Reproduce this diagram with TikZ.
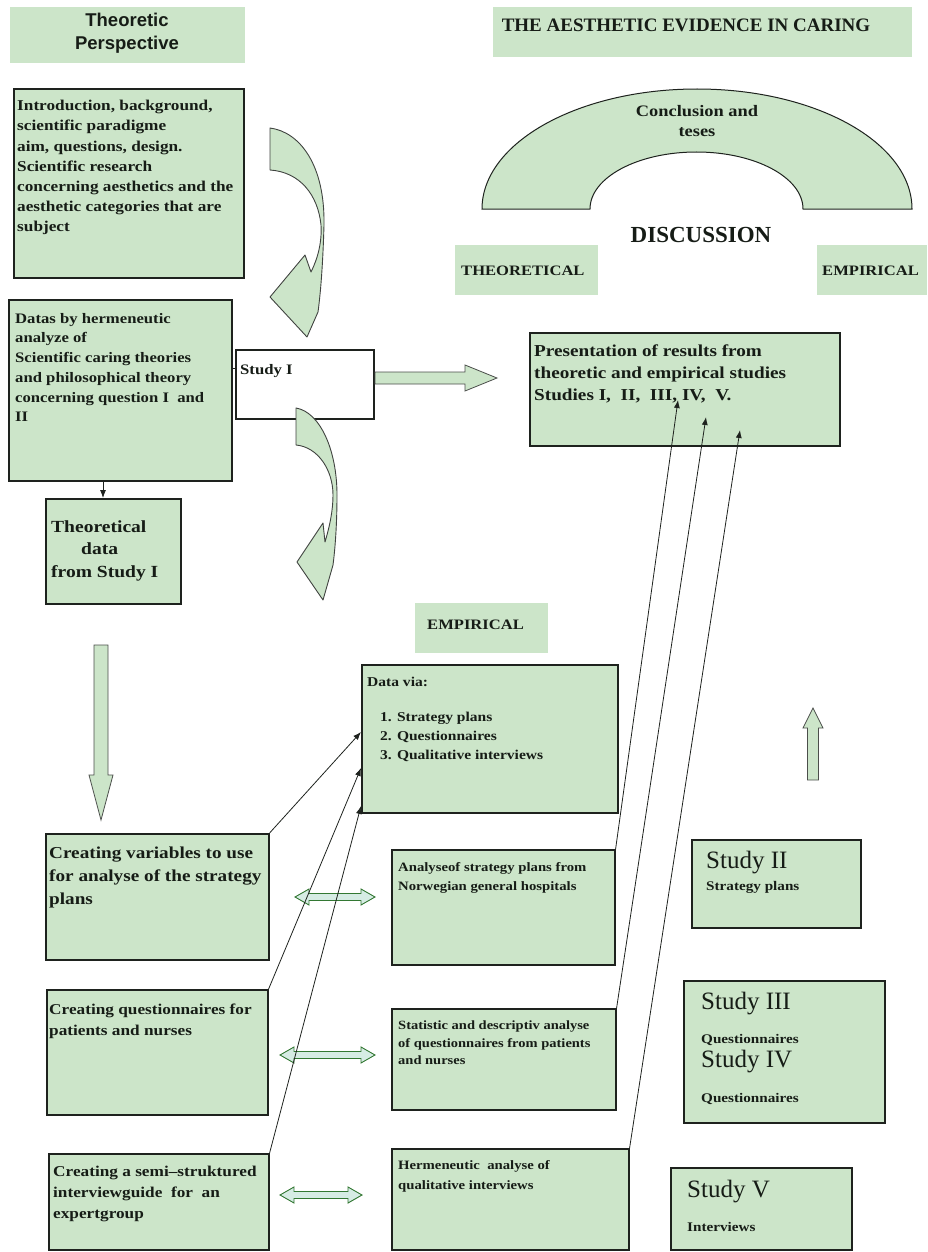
\documentclass[tikz,border=0pt]{standalone}
\usepackage{fontspec}
\usetikzlibrary{arrows.meta,calc}
\setmainfont{Liberation Serif}
\newfontfamily\bx{Liberation Serif}[FakeStretch=1.15]
\newfontfamily\hs{Liberation Sans}
\newcommand\fz[2]{\fontsize{#1}{#2}\selectfont}
\definecolor{gfill}{RGB}{204,229,201}
\definecolor{dfill}{RGB}{214,236,228}
\definecolor{txtc}{RGB}{22,28,22}
\definecolor{edge}{RGB}{30,34,30}
\newcommand\dbla[4]{% name, x-left, x-right, y-center
  \draw[dblarrow] (#2,#4) -- (#2+14,#4-8) -- (#2+14,#4-3.5) -- (#3-14,#4-3.5) -- (#3-14,#4-8) -- (#3,#4)
    -- (#3-14,#4+8) -- (#3-14,#4+3.5) -- (#2+14,#4+3.5) -- (#2+14,#4+8) -- cycle;
  \coordinate (#1) at ({(#2+#3)/2},#4);}
\tikzset{
  gbox/.style={draw=edge, line width=1.6pt, fill=gfill, inner sep=0pt, anchor=north west},
  wbox/.style={draw=edge, line width=1.6pt, fill=white, inner sep=0pt, anchor=north west},
  gplain/.style={draw=none, fill=gfill, inner sep=0pt, anchor=north west},
  tx/.style={inner sep=0pt, anchor=north west, align=left, text=txtc},
  conn/.style={draw=edge, line width=0.8pt, -{Latex[length=8pt,width=6pt]}},
  blockarrow/.style={fill=gfill, draw=edge!80, line width=0.8pt},
  dblarrow/.style={fill=dfill, draw=black!55!green!60!gray, line width=0.9pt},
  curvearrow/.style={fill=gfill, draw=edge!85, line width=0.9pt, line join=round}
}
\begin{document}
\begin{tikzpicture}[x=1pt,y=-1pt]
\useasboundingbox (0,0) rectangle (928,1252);

% ---------- label boxes ----------
\node[gplain, minimum width=235, minimum height=56] (tp) at (10,7) {};
\node[align=center, text=txtc, inner sep=0pt, font={\hs\bfseries\fz{18.5}{23}}] (tpT) at (127,33) {Theoretic\\Perspective};
\node[gplain, minimum width=419, minimum height=50] (title) at (493,7) {};
\node[text=txtc, inner sep=0pt, font={\bfseries\fz{19}{22}}] (titleT) at (686,25) {THE AESTHETIC EVIDENCE IN CARING};
\node[gplain, minimum width=143, minimum height=50] (theolab) at (455,245) {};
\node[tx, font={\bx\bfseries\fz{14.4}{17}}] (theolabT) at (461,266) {THEORETICAL};
\node[gplain, minimum width=110, minimum height=50] (emplab) at (817,245) {};
\node[tx, font={\bx\bfseries\fz{14.4}{17}}] (emplabT) at (822,266) {EMPIRICAL};
\node[gplain, minimum width=133, minimum height=50] (empmid) at (415,603) {};
\node[tx, font={\bx\bfseries\fz{14.4}{17}}] (empmidT) at (427,620) {EMPIRICAL};

% ---------- arch ----------
\draw[fill=gfill, draw=edge, line width=1pt] (482,209) arc[start angle=180, end angle=360, x radius=215, y radius=120]
  -- (803,209) arc[start angle=360, end angle=180, x radius=106.5, y radius=57] -- cycle;
\node[align=center, text=txtc, inner sep=0pt, font={\bx\bfseries\fz{16}{20}}] (concl) at (697,121) {Conclusion and\\teses};
\node[text=txtc, inner sep=0pt, font={\bfseries\fz{23}{26}}] (disc) at (701,235) {DISCUSSION};

% ---------- left column top ----------
\node[gbox, minimum width=230, minimum height=189] (intro) at (13,88) {};
\node[tx, font={\bx\bfseries\fz{15}{20.2}}] (introT) at (17,100) {Introduction, background,\\scientific paradigme\\aim, questions, design.\\Scientific research\\concerning aesthetics and the\\aesthetic categories that are\\subject};

\node[gbox, minimum width=223, minimum height=181] (datab) at (8,299) {};
\node[tx, font={\bx\bfseries\fz{14.5}{19.7}}] (databT) at (15,313) {Datas by hermeneutic\\analyze of\\Scientific caring theories\\and philosophical theory\\concerning question I\ \ and\\II};

\node[wbox, minimum width=138, minimum height=69] (st1) at (235,349) {};
\node[tx, font={\bx\bfseries\fz{14.5}{18}}] (st1T) at (240,364) {Study I};
\draw[draw=edge, line width=0.8pt] ($(datab.north east)+(0,69)$) -- ($(st1.north west)+(0,19)$);

\node[gbox, minimum width=135, minimum height=105] (theo) at (45,498) {};
\node[tx, font={\bx\bfseries\fz{17}{22.5}}] (theoT) at (51,520) {Theoretical\\\hspace*{30pt}data\\from Study I};

\draw[conn] ($(datab.south west)+(95,0)$) -- ($(theo.north west)+(58,0)$);

% ---------- curved arrows ----------
\draw[curvearrow] (270,128) .. controls (300,132) and (325,165) .. (324,225)
  .. controls (323,260) and (321,290) .. (318,312) -- (307,337) -- (270,297) -- (305,255) -- (311,272)
  .. controls (318,258) and (322,242) .. (321,225) .. controls (318,195) and (300,172) .. (270,170) -- cycle;
\draw[curvearrow] (296,408) .. controls (320,412) and (337,450) .. (337,495)
  .. controls (337,525) and (335,550) .. (333,565) -- (323,600) -- (297,562) -- (323,523) -- (325,542)
  .. controls (330,525) and (333,510) .. (333,495) .. controls (333,470) and (318,447) .. (296,445) -- cycle;

% ---------- block arrows ----------
\draw[blockarrow] (375,372) -- (465,372) -- (465,365) -- (497,378) -- (465,391) -- (465,384) -- (375,384) -- cycle;
\draw[blockarrow] (94,645) -- (108,645) -- (108,775) -- (113,775) -- (101,820) -- (89,775) -- (94,775) -- cycle;
\draw[blockarrow] (813,708) -- (823,728) -- (818.5,728) -- (818.5,780) -- (807.5,780) -- (807.5,728) -- (803,728) -- cycle;

% ---------- presentation ----------
\node[gbox, minimum width=310, minimum height=113] (pres) at (529,332) {};
\node[tx, font={\bx\bfseries\fz{16.7}{22}}] (presT) at (534,345) {Presentation of results from\\theoretic and empirical studies\\Studies I,\ \ II,\ \ III, IV,\ \ V.};

% ---------- empirical column ----------
\node[gbox, minimum width=256, minimum height=148] (datavia) at (361,664) {};
\node[tx, font={\bx\bfseries\fz{13.5}{17}}] (dataviaT) at (367,677) {Data via:};
\node[tx, font={\bx\bfseries\fz{13.5}{19}}] (dataviaL) at (380,712) {1. Strategy plans\\2. Questionnaires\\3. Qualitative interviews};

\node[gbox, minimum width=223, minimum height=115] (analy) at (391,849) {};
\node[tx, font={\bx\bfseries\fz{12.8}{19}}] (analyT) at (398,862) {Analyseof strategy plans from\\Norwegian general hospitals};

\node[gbox, minimum width=224, minimum height=101] (stat) at (391,1008) {};
\node[tx, font={\bx\bfseries\fz{12.6}{17.5}}] (statT) at (398,1021) {Statistic and descriptiv analyse\\of questionnaires from patients\\and nurses};

\node[gbox, minimum width=237, minimum height=101] (herm) at (391,1148) {};
\node[tx, font={\bx\bfseries\fz{12.8}{20}}] (hermT) at (398,1160) {Hermeneutic\ \ analyse of\\qualitative interviews};

% ---------- creating column ----------
\node[gbox, minimum width=223, minimum height=126] (cvar) at (45,833) {};
\node[tx, font={\bx\bfseries\fz{16.7}{23}}] (cvarT) at (49,847) {Creating variables to use\\for analyse of the strategy\\plans};

\node[gbox, minimum width=221, minimum height=125] (cq) at (46,989) {};
\node[tx, font={\bx\bfseries\fz{15}{21}}] (cqT) at (49,1004) {Creating questionnaires for\\patients and nurses};

\node[gbox, minimum width=220, minimum height=96] (cs) at (48,1153) {};
\node[tx, font={\bx\bfseries\fz{15}{21}}] (csT) at (53,1166) {Creating a semi–struktured\\interviewguide\ \ for\ \ an\\expertgroup};

% ---------- study boxes ----------
\node[gbox, minimum width=169, minimum height=88] (s2) at (691,839) {};
\node[tx, font={\fz{25}{26}}] (s2T) at (706,851) {Study II};
\node[tx, font={\bx\bfseries\fz{13.2}{15}}] (s2S) at (706,881) {Strategy plans};

\node[gbox, minimum width=201, minimum height=142] (s3) at (683,980) {};
\node[tx, font={\fz{25}{26}}] (s3T) at (701,992) {Study III};
\node[tx, font={\bx\bfseries\fz{13.2}{15}}] (s3S) at (701,1034) {Questionnaires};
\node[tx, font={\fz{25}{26}}] (s4T) at (701,1050) {Study IV};
\node[tx, font={\bx\bfseries\fz{13.2}{15}}] (s4S) at (701,1093) {Questionnaires};

\node[gbox, minimum width=181, minimum height=82] (s5) at (670,1167) {};
\node[tx, font={\fz{25}{26}}] (s5T) at (687,1180) {Study V};
\node[tx, font={\bx\bfseries\fz{13.2}{15}}] (s5S) at (687,1222) {Interviews};

% ---------- double arrows ----------
\dbla{da1}{295}{375}{897}
\dbla{da2}{280}{375}{1055}
\dbla{da3}{280}{362}{1195}

% ---------- thin connectors ----------
\draw[conn] (cvar.north east) -- ($(datavia.north west)+(0,68)$);
\draw[conn] (cq.north east) -- ($(datavia.north west)+(0,104)$);
\draw[conn] (cs.north east) -- ($(datavia.north west)+(0,142)$);
\draw[conn] (analy.north east) -- ($(pres.north west)+(149,68)$);
\draw[conn] (stat.north east) -- ($(pres.north west)+(177,85)$);
\draw[conn] (herm.north east) -- ($(pres.north west)+(211,98)$);
\end{tikzpicture}
\end{document}
